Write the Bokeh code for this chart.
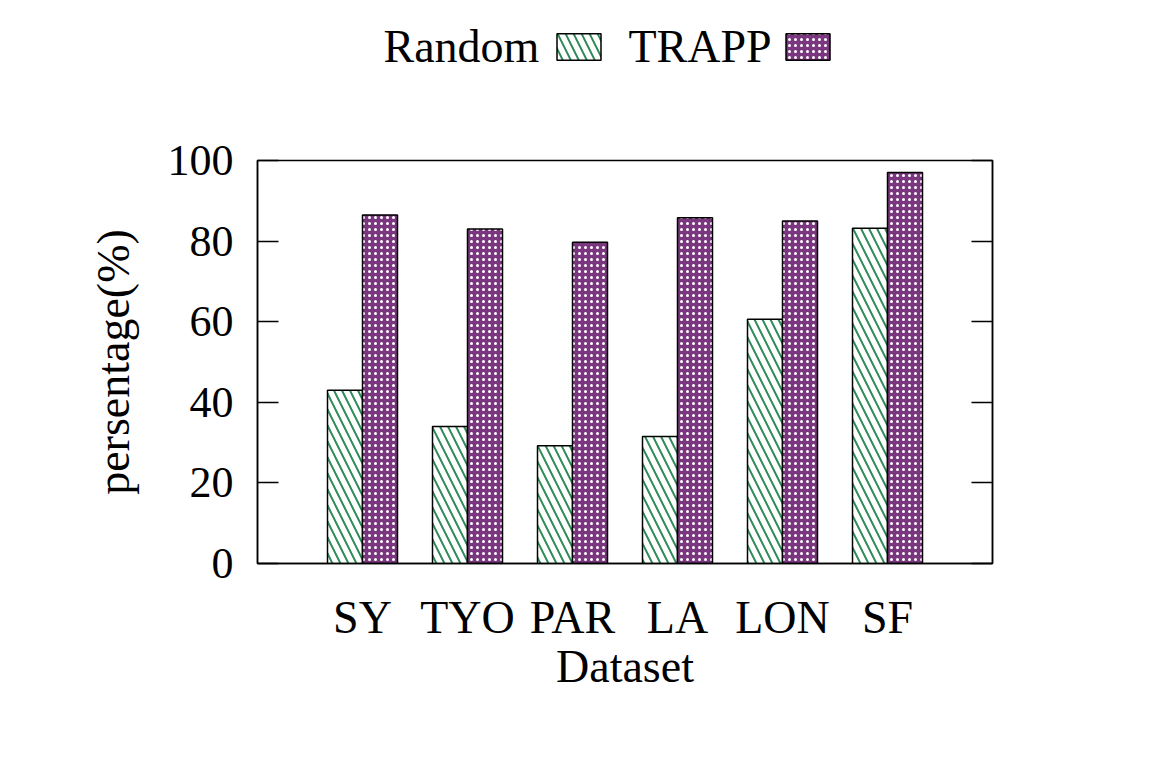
import numpy as np
from bokeh.plotting import figure
from bokeh.layouts import column
from bokeh.models import Range1d, FixedTicker, LinearAxis, Legend, LegendItem, Label, ColumnDataSource
from bokeh.transform import dodge
from bokeh.core.properties import value
from bokeh.embed import file_html
from bokeh.resources import INLINE

datasets = ["SY", "TYO", "PAR", "LA", "LON", "SF"]
positions = [1, 2, 3, 4, 5, 6]
random_pct = [43.0, 34.0, 29.2, 31.5, 60.6, 83.2]
trapp_pct = [86.5, 83.0, 79.7, 85.8, 85.0, 97.0]
y_ticks = [0, 20, 40, 60, 80, 100]
series_names = ["Random", "TRAPP"]

FONT = "Liberation Serif"
FS = "46px"
TICK_FS = "44px"
GREEN = "#2E8B57"
PURPLE = "#7A367E"

random_style = dict(fill_color="white", line_color="black", line_width=1.5,
                    hatch_pattern="left_diagonal_line", hatch_color=GREEN,
                    hatch_scale=16, hatch_weight=2)
trapp_style = dict(fill_color=PURPLE, line_color="black", line_width=1.5,
                   hatch_pattern="dot", hatch_color="white", hatch_scale=6, hatch_weight=2)

W = 1163
LEG_H = 100
MAIN_H = 675

src = ColumnDataSource(dict(pos=positions, random=random_pct, trapp=trapp_pct, name=datasets))

p = figure(width=W, height=MAIN_H, output_backend="svg", toolbar_location=None,
           x_range=Range1d(0, 7), y_range=Range1d(0, 100),
           min_border_left=257, min_border_right=171, min_border_top=60, min_border_bottom=212)
p.xgrid.visible = False
p.ygrid.visible = False
p.outline_line_color = "black"
p.outline_line_width = 1.5

r1 = p.vbar(x=dodge("pos", -1/6), top="random", width=1/3, source=src, **random_style)
r2 = p.vbar(x=dodge("pos", 1/6), top="trapp", width=1/3, source=src, **trapp_style)

# x axis
xa = p.xaxis[0]
xa.ticker = FixedTicker(ticks=positions)
xa.major_label_overrides = {pos: name for pos, name in zip(positions, datasets)}
xa.major_tick_in = 0
xa.major_tick_out = 0
xa.minor_tick_in = 0
xa.minor_tick_out = 0
xa.axis_line_color = "black"
xa.axis_line_width = 1.5
xa.major_label_text_font = FONT
xa.major_label_text_font_size = FS
xa.major_label_text_color = "black"
xa.major_label_standoff = 28
xa.axis_label = "Dataset"
xa.axis_label_text_font = FONT
xa.axis_label_text_font_size = FS
xa.axis_label_text_font_style = "normal"
xa.axis_label_text_color = "black"
xa.axis_label_standoff = -5

# y axis
ya = p.yaxis[0]
ya.ticker = FixedTicker(ticks=y_ticks)
ya.major_tick_in = 21
ya.major_tick_out = 0
ya.minor_tick_in = 0
ya.minor_tick_out = 0
ya.major_tick_line_width = 1.5
ya.major_tick_line_color = "black"
ya.axis_line_color = "black"
ya.axis_line_width = 1.5
ya.major_label_text_font = FONT
ya.major_label_text_font_size = TICK_FS
ya.major_label_text_color = "black"
ya.major_label_standoff = 24
ya.axis_label = "persentage(%)"
ya.axis_label_text_font = FONT
ya.axis_label_text_font_size = FS
ya.axis_label_text_font_style = "normal"
ya.axis_label_text_color = "black"
ya.axis_label_standoff = 26

# mirrored right ticks
ra = LinearAxis(ticker=FixedTicker(ticks=y_ticks), major_tick_in=21, major_tick_out=0,
                minor_tick_in=0, minor_tick_out=0, major_tick_line_width=1.5,
                axis_line_color="black", axis_line_width=1.5,
                major_label_text_font_size="0px", major_label_text_alpha=0)
p.add_layout(ra, "right")

# legend strip (gnuplot style: text, then swatch); its frame aligns with the main frame
lf = figure(width=W, height=LEG_H, output_backend="svg", toolbar_location=None,
            x_range=Range1d(0, 1), y_range=Range1d(0, 1),
            x_axis_location=None, y_axis_location=None,
            min_border_left=0, min_border_right=0, min_border_top=0, min_border_bottom=0)
lf.xgrid.visible = False
lf.ygrid.visible = False
lf.outline_line_color = None
# proxy renderers with no drawable bar (NaN height), used only for legend swatches
proxy = ColumnDataSource(dict(x=np.array([np.nan]), top=np.array([np.nan])))
d1 = lf.vbar(x="x", top="top", width=0.1, source=proxy, **random_style)
d2 = lf.vbar(x="x", top="top", width=0.1, source=proxy, **trapp_style)

leg = Legend(items=[LegendItem(label=value(" "), renderers=[d1]),
                    LegendItem(label=value(" "), renderers=[d2])],
             orientation="horizontal", location=(294, 37),
             glyph_width=55, glyph_height=33, label_width=0, label_standoff=0,
             label_height=0, label_text_font_size="1px", spacing=174,
             padding=0, margin=0, border_line_color=None, background_fill_alpha=0)
lf.add_layout(leg, "center")

for txt, sx in zip(series_names, [126, 371]):
    lf.add_layout(Label(x=sx, y=54, x_units="screen", y_units="screen", text=txt,
                        text_font=FONT, text_font_size=FS, text_color="black",
                        text_baseline="alphabetic"))

layout = column(lf, p, spacing=0)
open("out.html", "w").write(file_html(layout, INLINE))
